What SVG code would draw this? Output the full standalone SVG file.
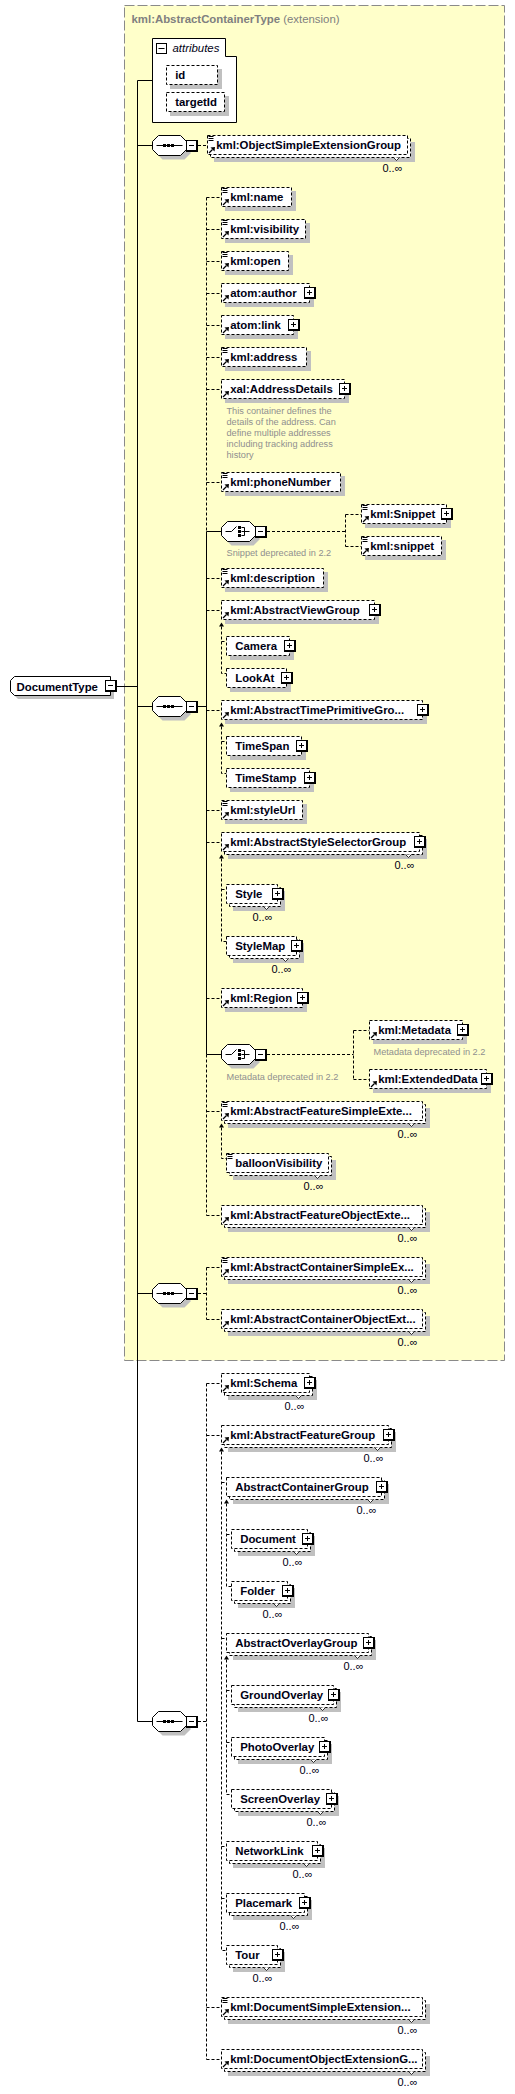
<svg xmlns="http://www.w3.org/2000/svg" xmlns:xlink="http://www.w3.org/1999/xlink" width="515" height="2094" viewBox="0 0 515 2094">
<style>
.yb{fill:#FFFFCA;stroke:#8a8a8a;stroke-dasharray:10,3}
.sh{fill:#c0c0c0}
.eb{fill:#fff;stroke:#000;stroke-dasharray:3,2}
.sb{fill:#fff;stroke:#000}
.cd{fill:none;stroke:#000;stroke-dasharray:3,2}
.cs{fill:none;stroke:#000}
.nt{fill:#fff;stroke:#000;stroke-width:0.8}
.ar{fill:#000}
text{font-family:"Liberation Sans",Arial,sans-serif}
.t{font-size:11.4px;font-weight:bold;fill:#000014}
.m{font-size:11px;fill:#000014;text-anchor:end}
.c{font-size:9.2px;fill:#8f8f8f}
.ttl{font-size:11.4px;font-weight:bold;fill:#808080}
.ttl2{font-weight:normal}
.it{font-size:11.4px;font-style:italic;fill:#000014}
</style>
<defs>
<g id="eq"><path d="M1,1h5M1,3h5M1,5h5" stroke="#000" fill="none"/></g>
<g id="ref"><path d="M1.5,17.5L5,14" stroke="#000" stroke-width="1.3" fill="none"/><polygon points="7.5,11.5 3,12 7,16" fill="#000"/></g>
<g id="pb"><rect width="12" height="12" fill="#000"/><rect x="1" y="1" width="9" height="9" fill="#fff"/><rect x="3" y="5" width="5" height="1" fill="#000"/><rect x="5" y="3" width="1" height="5" fill="#000"/></g>
<g id="mb"><rect width="12" height="12" fill="#000"/><rect x="1" y="1" width="9" height="9" fill="#fff"/><rect x="3" y="5" width="5" height="1" fill="#000"/></g>
<path id="oct" d="M6,0H28L34,6V14L28,20H6L0,14V6Z"/>
<g id="seq"><use xlink:href="#oct" href="#oct" x="4" y="4" fill="#c0c0c0"/><use xlink:href="#oct" href="#oct" fill="#fff" stroke="#000"/><path d="M4,10H30" stroke="#000"/><rect x="10.5" y="8.5" width="3" height="3"/><rect x="14.5" y="8.5" width="3" height="3"/><rect x="18.5" y="8.5" width="3" height="3"/></g>
<g id="cho"><use xlink:href="#oct" href="#oct" x="4" y="4" fill="#c0c0c0"/><use xlink:href="#oct" href="#oct" fill="#fff" stroke="#000"/><path d="M4,10H10L15,5M20,6H23M20,10H28M20,14H23M23,6V14" stroke="#000" fill="none"/><rect x="16.5" y="4.5" width="3" height="3"/><rect x="16.5" y="8.5" width="3" height="3"/><rect x="16.5" y="12.5" width="3" height="3"/></g>
</defs>

<rect class="yb" x="124.5" y="5.5" width="380" height="1355"/>
<text class="ttl" x="131.5" y="23">kml:AbstractContainerType<tspan class="ttl2"> (extension)</tspan></text>

<g id="connectors">
<path class="cs" d="M137.5,80.5V1721.5M137.5,80.5H152.5M116,686.5H137.5M137.5,145.5H152.5M137.5,706.5H152.5M137.5,1293.5H152.5M137.5,1721.5H152.5M198,706.5H206.5M206.5,531.5V1054.5M206.5,531.5H221.5M206.5,1054.5H221.5"/>
<path class="cd" d="M198,145.5H207.5M206.5,197.5V531.5M206.5,1054.5V1215.5M206.5,197.5H221.5M206.5,229.5H221.5M206.5,261.5H221.5M206.5,293.5H221.5M206.5,325.5H221.5M206.5,357.5H221.5M206.5,389.5H221.5M206.5,482.5H221.5M206.5,578.5H221.5M206.5,610.5H221.5M206.5,710.5H221.5M206.5,810.5H221.5M206.5,842.5H221.5M206.5,998.5H221.5M206.5,1111.5H221.5M206.5,1215.5H221.5"/>
<path class="cd" d="M267,531.5H345.5M345.5,514.5V546.5M345.5,514.5H361.5M345.5,546.5H361.5M267,1054.5H353.5M353.5,1030.5V1079.5M353.5,1030.5H369.5M353.5,1079.5H369.5"/>
<path class="cd" d="M198,1293.5H206.5M206.5,1267.5V1319.5M206.5,1267.5H221.5M206.5,1319.5H221.5"/>
<path class="cd" d="M198,1721.5H206.5M206.5,1383.5V2059.5M206.5,1383.5H221.5M206.5,1435.5H221.5M206.5,2007.5H221.5M206.5,2059.5H221.5"/>
<path class="cd" d="M221.5,626.5V673.5H226.5M221.5,641.5H226.5M221.5,726.5V773.5H226.5M221.5,741.5H226.5M221.5,858.5V941.5H226.5M221.5,889.5H226.5M221.5,1127.5V1158.5H226.5"/>
<path class="cd" d="M221.5,1451.5V1950.5H226.5M221.5,1482.5H226.5M221.5,1638.5H226.5M221.5,1846.5H226.5M221.5,1898.5H226.5M226.5,1503.5V1586.5H231.5M226.5,1534.5H231.5M226.5,1659.5V1794.5H231.5M226.5,1690.5H231.5M226.5,1742.5H231.5"/>
<polygon class="ar" points="221.5,622.5 219,626.5 224,626.5"/>
<polygon class="ar" points="221.5,722.5 219,726.5 224,726.5"/>
<polygon class="ar" points="221.5,854.5 219,858.5 224,858.5"/>
<polygon class="ar" points="221.5,1123.5 219,1127.5 224,1127.5"/>
<polygon class="ar" points="221.5,1447.5 219,1451.5 224,1451.5"/>
<polygon class="ar" points="226.5,1499.5 224,1503.5 229,1503.5"/>
<polygon class="ar" points="226.5,1655.5 224,1659.5 229,1659.5"/>
</g>

<g id="attributes">
<polygon class="sb" points="152.5,38.5 225.5,38.5 225.5,56.5 236.5,56.5 236.5,122.5 152.5,122.5"/>
<rect class="sb" x="156.5" y="43.5" width="10" height="10"/>
<path class="cs" d="M158.5,48.5H164.5"/>
<text class="it" x="172.5" y="52">attributes</text>
</g>
<g id="attr-id">
<rect class="sh" x="170" y="69" width="52" height="20"/>
<rect class="eb" x="166.5" y="65.5" width="51" height="19"/>
<text class="t" x="175.2" y="79">id</text>
</g>
<g id="attr-targetId">
<rect class="sh" x="170" y="96" width="59" height="20"/>
<rect class="eb" x="166.5" y="92.5" width="58" height="19"/>
<text class="t" x="175.2" y="106">targetId</text>
</g>

<g id="DocumentType">
<path class="sh" d="M18,680H114V699H18L14,695V684Z"/>
<path class="sb" d="M14.5,676.5H110.5V695.5H14.5L10.5,691.5V680.5Z"/>
<text class="t" x="16.5" y="690.5">DocumentType</text>
<use href="#mb" x="105" y="680"/>
</g>

<g id="seq1"><use href="#seq" x="152.5" y="135.5"/><use href="#mb" x="186" y="140"/></g>
<g id="seq2"><use href="#seq" x="152.5" y="696.5"/><use href="#mb" x="186" y="701"/></g>
<g id="seq3"><use href="#seq" x="152.5" y="1283.5"/><use href="#mb" x="186" y="1288"/></g>
<g id="seq4"><use href="#seq" x="152.5" y="1711.5"/><use href="#mb" x="186" y="1716"/></g>
<g id="choice1"><use href="#cho" x="221.5" y="521.5"/><use href="#mb" x="255" y="526"/><text class="c" x="226.5" y="556">Snippet deprecated in 2.2</text></g>
<g id="choice2"><use href="#cho" x="221.5" y="1044.5"/><use href="#mb" x="255" y="1049"/><text class="c" x="226.5" y="1080">Metadata deprecated in 2.2</text></g>

<g id="ObjectSimpleExtensionGroup">
<rect class="sh" x="214" y="142" width="201" height="20"/>
<rect class="eb" x="210.5" y="138.5" width="200" height="19"/>
<rect class="eb" x="207.5" y="135.5" width="200" height="19"/>
<path class="nt" d="M393.5,157.5l3,3l3,-3"/>
<use href="#eq" x="207.5" y="135.5"/><use href="#ref" x="207.5" y="135.5"/>
<text class="t" x="216.2" y="149">kml:ObjectSimpleExtensionGroup</text>
<text class="m" x="402.5" y="171.5">0..∞</text>
</g>

<g id="name">
<rect class="sh" x="225" y="191" width="71" height="20"/>
<rect class="eb" x="221.5" y="187.5" width="70" height="19"/>
<use href="#eq" x="221.5" y="187.5"/><use href="#ref" x="221.5" y="187.5"/>
<text class="t" x="230.2" y="201">kml:name</text>
</g>
<g id="visibility">
<rect class="sh" x="225" y="223" width="85" height="20"/>
<rect class="eb" x="221.5" y="219.5" width="84" height="19"/>
<use href="#eq" x="221.5" y="219.5"/><use href="#ref" x="221.5" y="219.5"/>
<text class="t" x="230.2" y="233">kml:visibility</text>
</g>
<g id="open">
<rect class="sh" x="225" y="255" width="68" height="20"/>
<rect class="eb" x="221.5" y="251.5" width="67" height="19"/>
<use href="#eq" x="221.5" y="251.5"/><use href="#ref" x="221.5" y="251.5"/>
<text class="t" x="230.2" y="265">kml:open</text>
</g>
<g id="author">
<rect class="sh" x="225" y="287" width="89" height="20"/>
<rect class="eb" x="221.5" y="283.5" width="88" height="19"/>
<use href="#ref" x="221.5" y="283.5"/>
<text class="t" x="230.2" y="297">atom:author</text>
<use href="#pb" x="304" y="287"/>
</g>
<g id="link">
<rect class="sh" x="225" y="319" width="73" height="20"/>
<rect class="eb" x="221.5" y="315.5" width="72" height="19"/>
<use href="#ref" x="221.5" y="315.5"/>
<text class="t" x="230.2" y="329">atom:link</text>
<use href="#pb" x="288" y="319"/>
</g>
<g id="address">
<rect class="sh" x="225" y="351" width="86" height="20"/>
<rect class="eb" x="221.5" y="347.5" width="85" height="19"/>
<use href="#eq" x="221.5" y="347.5"/><use href="#ref" x="221.5" y="347.5"/>
<text class="t" x="230.2" y="361">kml:address</text>
</g>
<g id="AddressDetails">
<rect class="sh" x="225" y="383" width="124" height="20"/>
<rect class="eb" x="221.5" y="379.5" width="123" height="19"/>
<use href="#ref" x="221.5" y="379.5"/>
<text class="t" x="230.2" y="393">xal:AddressDetails</text>
<use href="#pb" x="339" y="383"/>
<text class="c" x="226.5" y="414">This container defines the</text>
<text class="c" x="226.5" y="425">details of the address. Can</text>
<text class="c" x="226.5" y="436">define multiple addresses</text>
<text class="c" x="226.5" y="447">including tracking address</text>
<text class="c" x="226.5" y="458">history</text>
</g>
<g id="phoneNumber">
<rect class="sh" x="225" y="476" width="120" height="20"/>
<rect class="eb" x="221.5" y="472.5" width="119" height="19"/>
<use href="#eq" x="221.5" y="472.5"/><use href="#ref" x="221.5" y="472.5"/>
<text class="t" x="230.2" y="486">kml:phoneNumber</text>
</g>
<g id="Snippet">
<rect class="sh" x="365" y="508" width="86" height="20"/>
<rect class="eb" x="361.5" y="504.5" width="85" height="19"/>
<use href="#eq" x="361.5" y="504.5"/><use href="#ref" x="361.5" y="504.5"/>
<text class="t" x="370.2" y="518">kml:Snippet</text>
<use href="#pb" x="441" y="508"/>
</g>
<g id="snippet-lc">
<rect class="sh" x="365" y="540" width="81" height="20"/>
<rect class="eb" x="361.5" y="536.5" width="80" height="19"/>
<use href="#eq" x="361.5" y="536.5"/><use href="#ref" x="361.5" y="536.5"/>
<text class="t" x="370.2" y="550">kml:snippet</text>
</g>
<g id="description">
<rect class="sh" x="225" y="572" width="103" height="20"/>
<rect class="eb" x="221.5" y="568.5" width="102" height="19"/>
<use href="#eq" x="221.5" y="568.5"/><use href="#ref" x="221.5" y="568.5"/>
<text class="t" x="230.2" y="582">kml:description</text>
</g>
<g id="AbstractViewGroup">
<rect class="sh" x="225" y="604" width="154" height="20"/>
<rect class="eb" x="221.5" y="600.5" width="153" height="19"/>
<use href="#ref" x="221.5" y="600.5"/>
<text class="t" x="230.2" y="614">kml:AbstractViewGroup</text>
<use href="#pb" x="369" y="604"/>
</g>
<g id="Camera">
<rect class="sh" x="230" y="640" width="64" height="20"/>
<rect class="eb" x="226.5" y="636.5" width="63" height="19"/>
<text class="t" x="235.2" y="650">Camera</text>
<use href="#pb" x="284" y="640"/>
</g>
<g id="LookAt">
<rect class="sh" x="230" y="672" width="61" height="20"/>
<rect class="eb" x="226.5" y="668.5" width="60" height="19"/>
<text class="t" x="235.2" y="682">LookAt</text>
<use href="#pb" x="281" y="672"/>
</g>
<g id="AbstractTimePrimitiveGroup">
<rect class="sh" x="225" y="704" width="202" height="20"/>
<rect class="eb" x="221.5" y="700.5" width="201" height="19"/>
<use href="#ref" x="221.5" y="700.5"/>
<text class="t" x="230.2" y="714">kml:AbstractTimePrimitiveGro...</text>
<use href="#pb" x="417" y="704"/>
</g>
<g id="TimeSpan">
<rect class="sh" x="230" y="740" width="76" height="20"/>
<rect class="eb" x="226.5" y="736.5" width="75" height="19"/>
<text class="t" x="235.2" y="750">TimeSpan</text>
<use href="#pb" x="296" y="740"/>
</g>
<g id="TimeStamp">
<rect class="sh" x="230" y="772" width="84" height="20"/>
<rect class="eb" x="226.5" y="768.5" width="83" height="19"/>
<text class="t" x="235.2" y="782">TimeStamp</text>
<use href="#pb" x="304" y="772"/>
</g>
<g id="styleUrl">
<rect class="sh" x="225" y="804" width="82" height="20"/>
<rect class="eb" x="221.5" y="800.5" width="81" height="19"/>
<use href="#eq" x="221.5" y="800.5"/><use href="#ref" x="221.5" y="800.5"/>
<text class="t" x="230.2" y="814">kml:styleUrl</text>
</g>
<g id="AbstractStyleSelectorGroup">
<rect class="sh" x="228" y="839" width="199" height="20"/>
<rect class="eb" x="224.5" y="835.5" width="198" height="19"/>
<rect class="eb" x="221.5" y="832.5" width="198" height="19"/>
<path class="nt" d="M405.5,854.5l3,3l3,-3"/>
<use href="#ref" x="221.5" y="832.5"/>
<text class="t" x="230.2" y="846">kml:AbstractStyleSelectorGroup</text>
<use href="#pb" x="414" y="836"/>
<text class="m" x="414.5" y="868.5">0..∞</text>
</g>
<g id="Style">
<rect class="sh" x="233" y="891" width="52" height="20"/>
<rect class="eb" x="229.5" y="887.5" width="51" height="19"/>
<rect class="eb" x="226.5" y="884.5" width="51" height="19"/>
<path class="nt" d="M263.5,906.5l3,3l3,-3"/>
<text class="t" x="235.2" y="898">Style</text>
<use href="#pb" x="272" y="888"/>
<text class="m" x="272.5" y="920.5">0..∞</text>
</g>
<g id="StyleMap">
<rect class="sh" x="233" y="943" width="71" height="20"/>
<rect class="eb" x="229.5" y="939.5" width="70" height="19"/>
<rect class="eb" x="226.5" y="936.5" width="70" height="19"/>
<path class="nt" d="M282.5,958.5l3,3l3,-3"/>
<text class="t" x="235.2" y="950">StyleMap</text>
<use href="#pb" x="291" y="940"/>
<text class="m" x="291.5" y="972.5">0..∞</text>
</g>
<g id="Region">
<rect class="sh" x="225" y="992" width="82" height="20"/>
<rect class="eb" x="221.5" y="988.5" width="81" height="19"/>
<use href="#ref" x="221.5" y="988.5"/>
<text class="t" x="230.2" y="1002">kml:Region</text>
<use href="#pb" x="297" y="992"/>
</g>
<g id="Metadata">
<rect class="sh" x="373" y="1024" width="94" height="20"/>
<rect class="eb" x="369.5" y="1020.5" width="93" height="19"/>
<use href="#ref" x="369.5" y="1020.5"/>
<text class="t" x="378.2" y="1034">kml:Metadata</text>
<use href="#pb" x="457" y="1024"/>
<text class="c" x="373.5" y="1055">Metadata deprecated in 2.2</text>
</g>
<g id="ExtendedData">
<rect class="sh" x="373" y="1073" width="118" height="20"/>
<rect class="eb" x="369.5" y="1069.5" width="117" height="19"/>
<use href="#ref" x="369.5" y="1069.5"/>
<text class="t" x="378.2" y="1083">kml:ExtendedData</text>
<use href="#pb" x="481" y="1073"/>
</g>
<g id="AbstractFeatureSimpleExtensionGroup">
<rect class="sh" x="228" y="1108" width="202" height="20"/>
<rect class="eb" x="224.5" y="1104.5" width="201" height="19"/>
<rect class="eb" x="221.5" y="1101.5" width="201" height="19"/>
<path class="nt" d="M408.5,1123.5l3,3l3,-3"/>
<use href="#eq" x="221.5" y="1101.5"/><use href="#ref" x="221.5" y="1101.5"/>
<text class="t" x="230.2" y="1115">kml:AbstractFeatureSimpleExte...</text>
<text class="m" x="417.5" y="1137.5">0..∞</text>
</g>
<g id="balloonVisibility">
<rect class="sh" x="233" y="1160" width="103" height="20"/>
<rect class="eb" x="229.5" y="1156.5" width="102" height="19"/>
<rect class="eb" x="226.5" y="1153.5" width="102" height="19"/>
<path class="nt" d="M314.5,1175.5l3,3l3,-3"/>
<use href="#eq" x="226.5" y="1153.5"/>
<text class="t" x="235.2" y="1167">balloonVisibility</text>
<text class="m" x="323.5" y="1189.5">0..∞</text>
</g>
<g id="AbstractFeatureObjectExtensionGroup">
<rect class="sh" x="228" y="1212" width="202" height="20"/>
<rect class="eb" x="224.5" y="1208.5" width="201" height="19"/>
<rect class="eb" x="221.5" y="1205.5" width="201" height="19"/>
<path class="nt" d="M408.5,1227.5l3,3l3,-3"/>
<use href="#ref" x="221.5" y="1205.5"/>
<text class="t" x="230.2" y="1219">kml:AbstractFeatureObjectExte...</text>
<text class="m" x="417.5" y="1241.5">0..∞</text>
</g>
<g id="AbstractContainerSimpleExtensionGroup">
<rect class="sh" x="228" y="1264" width="202" height="20"/>
<rect class="eb" x="224.5" y="1260.5" width="201" height="19"/>
<rect class="eb" x="221.5" y="1257.5" width="201" height="19"/>
<path class="nt" d="M408.5,1279.5l3,3l3,-3"/>
<use href="#eq" x="221.5" y="1257.5"/><use href="#ref" x="221.5" y="1257.5"/>
<text class="t" x="230.2" y="1271">kml:AbstractContainerSimpleEx...</text>
<text class="m" x="417.5" y="1293.5">0..∞</text>
</g>
<g id="AbstractContainerObjectExtensionGroup">
<rect class="sh" x="228" y="1316" width="202" height="20"/>
<rect class="eb" x="224.5" y="1312.5" width="201" height="19"/>
<rect class="eb" x="221.5" y="1309.5" width="201" height="19"/>
<path class="nt" d="M408.5,1331.5l3,3l3,-3"/>
<use href="#ref" x="221.5" y="1309.5"/>
<text class="t" x="230.2" y="1323">kml:AbstractContainerObjectExt...</text>
<text class="m" x="417.5" y="1345.5">0..∞</text>
</g>
<g id="Schema">
<rect class="sh" x="228" y="1380" width="89" height="20"/>
<rect class="eb" x="224.5" y="1376.5" width="88" height="19"/>
<rect class="eb" x="221.5" y="1373.5" width="88" height="19"/>
<path class="nt" d="M295.5,1395.5l3,3l3,-3"/>
<use href="#ref" x="221.5" y="1373.5"/>
<text class="t" x="230.2" y="1387">kml:Schema</text>
<use href="#pb" x="304" y="1377"/>
<text class="m" x="304.5" y="1409.5">0..∞</text>
</g>
<g id="AbstractFeatureGroup">
<rect class="sh" x="228" y="1432" width="168" height="20"/>
<rect class="eb" x="224.5" y="1428.5" width="167" height="19"/>
<rect class="eb" x="221.5" y="1425.5" width="167" height="19"/>
<path class="nt" d="M374.5,1447.5l3,3l3,-3"/>
<use href="#ref" x="221.5" y="1425.5"/>
<text class="t" x="230.2" y="1439">kml:AbstractFeatureGroup</text>
<use href="#pb" x="383" y="1429"/>
<text class="m" x="383.5" y="1461.5">0..∞</text>
</g>
<g id="AbstractContainerGroup">
<rect class="sh" x="233" y="1484" width="156" height="20"/>
<rect class="eb" x="229.5" y="1480.5" width="155" height="19"/>
<rect class="eb" x="226.5" y="1477.5" width="155" height="19"/>
<path class="nt" d="M367.5,1499.5l3,3l3,-3"/>
<text class="t" x="235.2" y="1491">AbstractContainerGroup</text>
<use href="#pb" x="376" y="1481"/>
<text class="m" x="376.5" y="1513.5">0..∞</text>
</g>
<g id="Document">
<rect class="sh" x="238" y="1536" width="77" height="20"/>
<rect class="eb" x="234.5" y="1532.5" width="76" height="19"/>
<rect class="eb" x="231.5" y="1529.5" width="76" height="19"/>
<path class="nt" d="M293.5,1551.5l3,3l3,-3"/>
<text class="t" x="240.2" y="1543">Document</text>
<use href="#pb" x="302" y="1533"/>
<text class="m" x="302.5" y="1565.5">0..∞</text>
</g>
<g id="Folder">
<rect class="sh" x="238" y="1588" width="57" height="20"/>
<rect class="eb" x="234.5" y="1584.5" width="56" height="19"/>
<rect class="eb" x="231.5" y="1581.5" width="56" height="19"/>
<path class="nt" d="M273.5,1603.5l3,3l3,-3"/>
<text class="t" x="240.2" y="1595">Folder</text>
<use href="#pb" x="282" y="1585"/>
<text class="m" x="282.5" y="1617.5">0..∞</text>
</g>
<g id="AbstractOverlayGroup">
<rect class="sh" x="233" y="1640" width="143" height="20"/>
<rect class="eb" x="229.5" y="1636.5" width="142" height="19"/>
<rect class="eb" x="226.5" y="1633.5" width="142" height="19"/>
<path class="nt" d="M354.5,1655.5l3,3l3,-3"/>
<text class="t" x="235.2" y="1647">AbstractOverlayGroup</text>
<use href="#pb" x="363" y="1637"/>
<text class="m" x="363.5" y="1669.5">0..∞</text>
</g>
<g id="GroundOverlay">
<rect class="sh" x="238" y="1692" width="103" height="20"/>
<rect class="eb" x="234.5" y="1688.5" width="102" height="19"/>
<rect class="eb" x="231.5" y="1685.5" width="102" height="19"/>
<path class="nt" d="M319.5,1707.5l3,3l3,-3"/>
<text class="t" x="240.2" y="1699">GroundOverlay</text>
<use href="#pb" x="328" y="1689"/>
<text class="m" x="328.5" y="1721.5">0..∞</text>
</g>
<g id="PhotoOverlay">
<rect class="sh" x="238" y="1744" width="94" height="20"/>
<rect class="eb" x="234.5" y="1740.5" width="93" height="19"/>
<rect class="eb" x="231.5" y="1737.5" width="93" height="19"/>
<path class="nt" d="M310.5,1759.5l3,3l3,-3"/>
<text class="t" x="240.2" y="1751">PhotoOverlay</text>
<use href="#pb" x="319" y="1741"/>
<text class="m" x="319.5" y="1773.5">0..∞</text>
</g>
<g id="ScreenOverlay">
<rect class="sh" x="238" y="1796" width="101" height="20"/>
<rect class="eb" x="234.5" y="1792.5" width="100" height="19"/>
<rect class="eb" x="231.5" y="1789.5" width="100" height="19"/>
<path class="nt" d="M317.5,1811.5l3,3l3,-3"/>
<text class="t" x="240.2" y="1803">ScreenOverlay</text>
<use href="#pb" x="326" y="1793"/>
<text class="m" x="326.5" y="1825.5">0..∞</text>
</g>
<g id="NetworkLink">
<rect class="sh" x="233" y="1848" width="92" height="20"/>
<rect class="eb" x="229.5" y="1844.5" width="91" height="19"/>
<rect class="eb" x="226.5" y="1841.5" width="91" height="19"/>
<path class="nt" d="M303.5,1863.5l3,3l3,-3"/>
<text class="t" x="235.2" y="1855">NetworkLink</text>
<use href="#pb" x="312" y="1845"/>
<text class="m" x="312.5" y="1877.5">0..∞</text>
</g>
<g id="Placemark">
<rect class="sh" x="233" y="1900" width="79" height="20"/>
<rect class="eb" x="229.5" y="1896.5" width="78" height="19"/>
<rect class="eb" x="226.5" y="1893.5" width="78" height="19"/>
<path class="nt" d="M290.5,1915.5l3,3l3,-3"/>
<text class="t" x="235.2" y="1907">Placemark</text>
<use href="#pb" x="299" y="1897"/>
<text class="m" x="299.5" y="1929.5">0..∞</text>
</g>
<g id="Tour">
<rect class="sh" x="233" y="1952" width="52" height="20"/>
<rect class="eb" x="229.5" y="1948.5" width="51" height="19"/>
<rect class="eb" x="226.5" y="1945.5" width="51" height="19"/>
<path class="nt" d="M263.5,1967.5l3,3l3,-3"/>
<text class="t" x="235.2" y="1959">Tour</text>
<use href="#pb" x="272" y="1949"/>
<text class="m" x="272.5" y="1981.5">0..∞</text>
</g>
<g id="DocumentSimpleExtensionGroup">
<rect class="sh" x="228" y="2004" width="202" height="20"/>
<rect class="eb" x="224.5" y="2000.5" width="201" height="19"/>
<rect class="eb" x="221.5" y="1997.5" width="201" height="19"/>
<path class="nt" d="M408.5,2019.5l3,3l3,-3"/>
<use href="#eq" x="221.5" y="1997.5"/><use href="#ref" x="221.5" y="1997.5"/>
<text class="t" x="230.2" y="2011">kml:DocumentSimpleExtension...</text>
<text class="m" x="417.5" y="2033.5">0..∞</text>
</g>
<g id="DocumentObjectExtensionGroup">
<rect class="sh" x="228" y="2056" width="202" height="20"/>
<rect class="eb" x="224.5" y="2052.5" width="201" height="19"/>
<rect class="eb" x="221.5" y="2049.5" width="201" height="19"/>
<path class="nt" d="M408.5,2071.5l3,3l3,-3"/>
<use href="#ref" x="221.5" y="2049.5"/>
<text class="t" x="230.2" y="2063">kml:DocumentObjectExtensionG...</text>
<text class="m" x="417.5" y="2085.5">0..∞</text>
</g>
</svg>
